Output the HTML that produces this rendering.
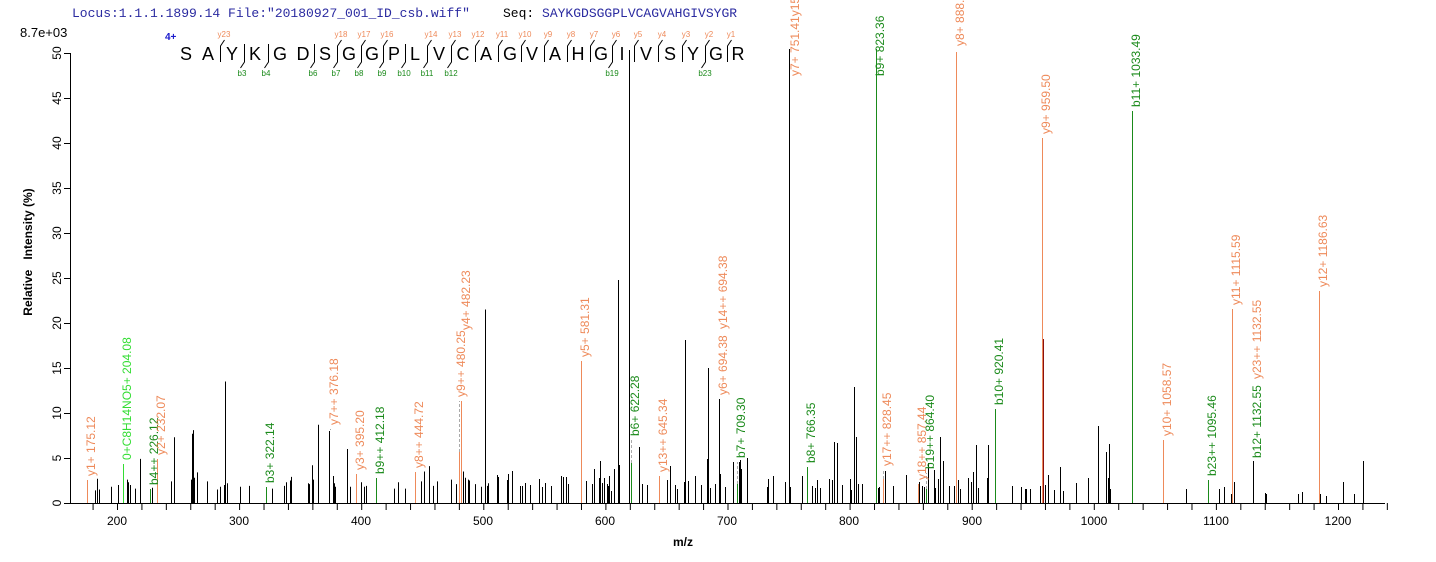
<!DOCTYPE html>
<html><head><meta charset="utf-8"><style>
html,body{margin:0;padding:0;background:#fff;}
svg{display:block;}
text{font-family:"Liberation Sans",sans-serif;}
.o{fill:#ee8a5a;font-size:12px;}
.g{fill:#1a8a1a;font-size:12px;}
.lg{fill:#33dd33;font-size:12px;}
.t{font-size:12px;fill:#000;}
</style></head><body>
<svg id="s" width="1436" height="562" xmlns="http://www.w3.org/2000/svg">
<text x="72" y="17" style="font-family:'Liberation Mono',monospace;font-size:13px;fill:#2a2aa0">Locus:1.1.1.1899.14 File:"20180927_001_ID_csb.wiff"</text>
<text x="503" y="17" style="font-family:'Liberation Mono',monospace;font-size:13px;fill:#2a2aa0"><tspan fill="#000">Seq: </tspan>SAYKGDSGGPLVCAGVAHGIVSYGR</text>
<text x="20" y="37" style="font-size:13px">8.7e+03</text>
<text x="165" y="40" style="font-size:10px;font-weight:bold;fill:#1a1acc">4+</text>
<g id="seq" style="font-size:18px" text-anchor="middle">
<text x="186" y="60">S</text><text x="208" y="60">A</text><text x="232" y="60">Y</text><text x="255" y="60">K</text><text x="280" y="60">G</text><text x="303" y="60">D</text><text x="325" y="60">S</text><text x="349" y="60">G</text><text x="372" y="60">G</text><text x="394" y="60">P</text><text x="415" y="60">L</text><text x="439" y="60">V</text><text x="463" y="60">C</text><text x="486" y="60">A</text><text x="510" y="60">G</text><text x="532" y="60">V</text><text x="555" y="60">A</text><text x="578" y="60">H</text><text x="601" y="60">G</text><text x="622" y="60">I</text><text x="646" y="60">V</text><text x="670" y="60">S</text><text x="693" y="60">Y</text><text x="716" y="60">G</text><text x="738" y="60">R</text>
</g>
<g style="font-size:8px;fill:#ee8a5a" text-anchor="middle">
<text x="224" y="37">y23</text><text x="341" y="37">y18</text><text x="364" y="37">y17</text><text x="387" y="37">y16</text><text x="431" y="37">y14</text><text x="455" y="37">y13</text><text x="478" y="37">y12</text><text x="502" y="37">y11</text><text x="525" y="37">y10</text><text x="548" y="37">y9</text><text x="571" y="37">y8</text><text x="594" y="37">y7</text><text x="616" y="37">y6</text><text x="638" y="37">y5</text><text x="662" y="37">y4</text><text x="686" y="37">y3</text><text x="709" y="37">y2</text><text x="731" y="37">y1</text>
</g>
<g style="font-size:8px;fill:#1a8a1a" text-anchor="middle">
<text x="242" y="76">b3</text><text x="266" y="76">b4</text><text x="313" y="76">b6</text><text x="336" y="76">b7</text><text x="359" y="76">b8</text><text x="382" y="76">b9</text><text x="404" y="76">b10</text><text x="427" y="76">b11</text><text x="451" y="76">b12</text><text x="612" y="76">b19</text><text x="705" y="76">b23</text>
</g>
<g id="peaks"></g>
<g stroke="#000" stroke-width="1" fill="none">
<line x1="70.5" y1="53" x2="70.5" y2="503"/>
<line x1="70" y1="503.5" x2="1385" y2="503.5"/>
</g>
<g id="ticks" stroke="#000"></g>
<g class="t" text-anchor="middle">
<text transform="rotate(-90 61 503)" x="61" y="503">0</text>
<text transform="rotate(-90 61 458)" x="61" y="458">5</text>
<text transform="rotate(-90 61 413)" x="61" y="413">10</text>
<text transform="rotate(-90 61 368)" x="61" y="368">15</text>
<text transform="rotate(-90 61 323)" x="61" y="323">20</text>
<text transform="rotate(-90 61 278)" x="61" y="278">25</text>
<text transform="rotate(-90 61 233)" x="61" y="233">30</text>
<text transform="rotate(-90 61 188)" x="61" y="188">35</text>
<text transform="rotate(-90 61 143)" x="61" y="143">40</text>
<text transform="rotate(-90 61 98)" x="61" y="98">45</text>
<text transform="rotate(-90 61 53)" x="61" y="53">50</text>
<text x="117" y="525">200</text><text x="239" y="525">300</text><text x="361" y="525">400</text><text x="483" y="525">500</text><text x="605" y="525">600</text><text x="727" y="525">700</text><text x="849" y="525">800</text><text x="972" y="525">900</text><text x="1094" y="525">1000</text><text x="1216" y="525">1100</text><text x="1338" y="525">1200</text>
</g>
<text x="683" y="546" text-anchor="middle" style="font-size:12px;font-weight:bold">m/z</text>
<text transform="rotate(-90 32 252)" x="32" y="252" text-anchor="middle" style="font-size:12px;font-weight:bold">Relative &#160;&#160;Intensity (%)</text>
<g id="labels" transform="translate(3,0)">
<text class="o" transform="rotate(-90 92 476)" x="92" y="476">y1+ 175.12</text>
<text class="lg" transform="rotate(-90 128 460)" x="128" y="460">0+C8H14NO5+ 204.08</text>
<text class="g" transform="rotate(-90 155 485)" x="155" y="485">b4++ 226.12</text>
<text class="o" transform="rotate(-90 162 455)" x="162" y="455">y2+ 232.07</text>
<text class="g" transform="rotate(-90 271 483)" x="271" y="483">b3+ 322.14</text>
<text class="o" transform="rotate(-90 335 425)" x="335" y="425">y7++ 376.18</text>
<text class="o" transform="rotate(-90 361 470)" x="361" y="470">y3+ 395.20</text>
<text class="g" transform="rotate(-90 381 474)" x="381" y="474">b9++ 412.18</text>
<text class="o" transform="rotate(-90 420 468)" x="420" y="468">y8++ 444.72</text>
<text class="o" transform="rotate(-90 462 397)" x="462" y="397">y9++ 480.25</text>
<text class="o" transform="rotate(-90 467 330)" x="467" y="330">y4+ 482.23</text>
<text class="o" transform="rotate(-90 586 357)" x="586" y="357">y5+ 581.31</text>
<text class="g" transform="rotate(-90 636 436)" x="636" y="436">b6+ 622.28</text>
<text class="o" transform="rotate(-90 664 472)" x="664" y="472">y13++ 645.34</text>
<text class="o" transform="rotate(-90 724 395)" x="724" y="395">y6+ 694.38</text>
<text class="o" transform="rotate(-90 724 329)" x="724" y="329">y14++ 694.38</text>
<text class="g" transform="rotate(-90 742 458)" x="742" y="458">b7+ 709.30</text>
<text class="o" transform="rotate(-90 796 76)" x="796" y="76">y7+ 751.41y15++</text>
<text class="g" transform="rotate(-90 812 463)" x="812" y="463">b8+ 766.35</text>
<text class="g" transform="rotate(-90 881 76)" x="881" y="76">b9+ 823.36</text>
<text class="o" transform="rotate(-90 888 466)" x="888" y="466">y17++ 828.45</text>
<text class="o" transform="rotate(-90 923 480)" x="923" y="480">y18++ 857.44</text>
<text class="g" transform="rotate(-90 931 469)" x="931" y="469">b19++ 864.40</text>
<text class="o" transform="rotate(-90 961 46)" x="961" y="46">y8+ 888.4</text>
<text class="g" transform="rotate(-90 1000 405)" x="1000" y="405">b10+ 920.41</text>
<text class="o" transform="rotate(-90 1047 134)" x="1047" y="134">y9+ 959.50</text>
<text class="g" transform="rotate(-90 1137 107)" x="1137" y="107">b11+ 1033.49</text>
<text class="o" transform="rotate(-90 1168 436)" x="1168" y="436">y10+ 1058.57</text>
<text class="g" transform="rotate(-90 1213 476)" x="1213" y="476">b23++ 1095.46</text>
<text class="o" transform="rotate(-90 1237 305)" x="1237" y="305">y11+ 1115.59</text>
<text class="o" transform="rotate(-90 1258 379)" x="1258" y="379">y23++ 1132.55</text>
<text class="g" transform="rotate(-90 1258 458)" x="1258" y="458">b12+ 1132.55</text>
<text class="o" transform="rotate(-90 1324 287)" x="1324" y="287">y12+ 1186.63</text>
</g>
</svg>
<script>
(function(){
var NS="http://www.w3.org/2000/svg",P=document.getElementById("peaks"),T=document.getElementById("ticks");
function L(g,x1,y1,x2,y2,c,d){var l=document.createElementNS(NS,"line");l.setAttribute("x1",x1);l.setAttribute("y1",y1);l.setAttribute("x2",x2);l.setAttribute("y2",y2);l.setAttribute("stroke",c);l.setAttribute("stroke-width",1);if(d)l.setAttribute("stroke-dasharray",d);g.appendChild(l);}
for(var m=180;m<=1240;m+=20){var x=117+(m-200)*1.221;L(T,x+.5,503,x+.5,510,"#000");}
for(var v=0;v<=50;v+=5){var y=503-9*v;L(T,64,y+.5,70,y+.5,"#000");}
var lb=[[95,1.4],[97,2.7],[99,1.5],[111,1.8],[118,2],[127,2.6],[128,2.3],[130,2],[135,1.6],[140,4.9],[150,1.5],[152,1.7],[157,1.4],[171,2.4],[174,7.3],[191,2.6],[192,7.7],[193,8.1],[194,2.8],[197,3.4],[207,2.4],[217,1.5],[220,1.8],[224,2],[225,13.5],[227,2.2],[240,1.8],[249,1.9],[272,1.6],[284,1.9],[286,2.3],[290,2.5],[291,2.9],[308,2.2],[309,2.1],[312,4.2],[313,2.6],[318,8.7],[329,8],[333,3],[334,2.2],[335,1.8],[347,6],[350,1.8],[361,2.3],[364,1.8],[366,1.9],[394,1.6],[398,2.3],[405,1.6],[421,2.4],[424,3.5],[429,4.1],[433,1.9],[437,2.4],[451,2.6],[456,2.1],[463,3.5],[465,2.8],[468,2.6],[469,2.5],[475,2.1],[481,1.8],[485,21.5],[487,1.9],[488,2.2]];
lb.forEach(function(p){L(P,p[0]+.5,503,p[0]+.5,503-9*p[1],"#000");});
var rb=[[497,475],[498,477],[507,480],[508,474],[512,471],[520,486],[522,486],[525,483],[530,485],[539,479],[542,487],[545,483],[551,486],[561,476],[563,477],[566,477],[568,484],[586,481],[592,484],[594,469],[599,478],[600,461],[602,483],[604,478],[607,484],[608,486],[609,476],[611,491],[614,469],[618,280],[619,465],[629,50],[639,447],[642,484],[647,485],[667,480],[670,466],[675,485],[677,489],[684,482],[685,340],[688,481],[695,476],[701,485],[707,459],[708,368],[710,488],[715,484],[719,399],[720,474],[725,487],[733,462],[739,462],[740,460],[741,469],[747,458],[767,487],[768,479],[773,476],[785,482],[789,49],[790,487],[802,476],[812,486],[815,488],[817,480],[820,488],[829,479],[832,480],[834,442],[837,443],[842,485],[850,479],[851,490],[854,387],[856,437],[858,484],[862,484],[878,488],[879,487],[885,471],[893,486],[906,475],[919,482],[922,486],[924,487],[928,463],[934,470],[935,488],[938,479],[940,437],[943,461],[949,486],[954,486],[958,480],[960,489],[968,478],[971,482],[973,472],[976,445],[978,488],[987,478],[988,445],[1012,486],[1021,487],[1025,489],[1026,489],[1030,489],[1040,486],[1043,339],[1045,485],[1048,475],[1054,490],[1060,467],[1063,491],[1076,483],[1088,478],[1098,426],[1106,452],[1108,478],[1109,444],[1110,489],[1186,489],[1219,489],[1224,487],[1231,494],[1234,482],[1253,461],[1265,493],[1266,494],[1298,494],[1302,492],[1320,494],[1326,496],[1343,482],[1354,494],[1363,461]];
rb.forEach(function(p){L(P,p[0]+.5,503,p[0]+.5,p[1],p[0]==1043?"#8a1010":"#000");});
var O="#ee8a5a",G="#1a8a1a";
var col=[[87,480,O],[123,464,"#33dd33"],[150,489,G],[157,459,O],[266,487,G],[356,474,O],[376,478,G],[415,472,O],[459,452,O],[461,401,O],[581,361,O],[631,463,G],[659,476,O],[737,484,G],[807,467,G],[876,49,G],[883,479,O],[918,484,O],[926,489,G],[956,52,O],[995,409,G],[1042,138,O],[1132,111,G],[1163,440,O],[1208,480,G],[1232,309,O],[1319,291,O]];
col.forEach(function(p){L(P,p[0]+.5,503,p[0]+.5,p[1],p[2]);});
var ds=[[330,430,429],[459,452,401],[631,463,440],[737,484,462],[883,479,470],[926,489,473]];
ds.forEach(function(p){L(P,p[0]+.5,p[1],p[0]+.5,p[2],"#aaa","3,2");});
var pos=[186,208,232,255,280,303,325,349,372,394,415,439,463,486,510,532,555,578,601,622,646,670,693,716,738];
var S=document.getElementById("s");
function path(d){var e=document.createElementNS(NS,"path");e.setAttribute("d",d);e.setAttribute("stroke","#000");e.setAttribute("fill","none");e.setAttribute("stroke-width","1");S.appendChild(e);}
var yk=[2,7,8,9,11,12,13,14,15,16,17,18,19,20,21,22,23,24],bk=[3,4,6,7,8,9,10,11,12,19,23];
for(var k=1;k<25;k++){var mx=Math.round((pos[k-1]+pos[k])/2)+.5,iy=yk.indexOf(k)>=0,ib=bk.indexOf(k)>=0;
 if(!iy&&!ib)continue;
 var d="M"+mx+",44 V62";
 if(iy)d="M"+(mx+4)+",40 L"+mx+",46 V62";
 if(ib)d+=" L"+(mx-4)+",68";
 path(d);}
})();
</script>
</body></html>
